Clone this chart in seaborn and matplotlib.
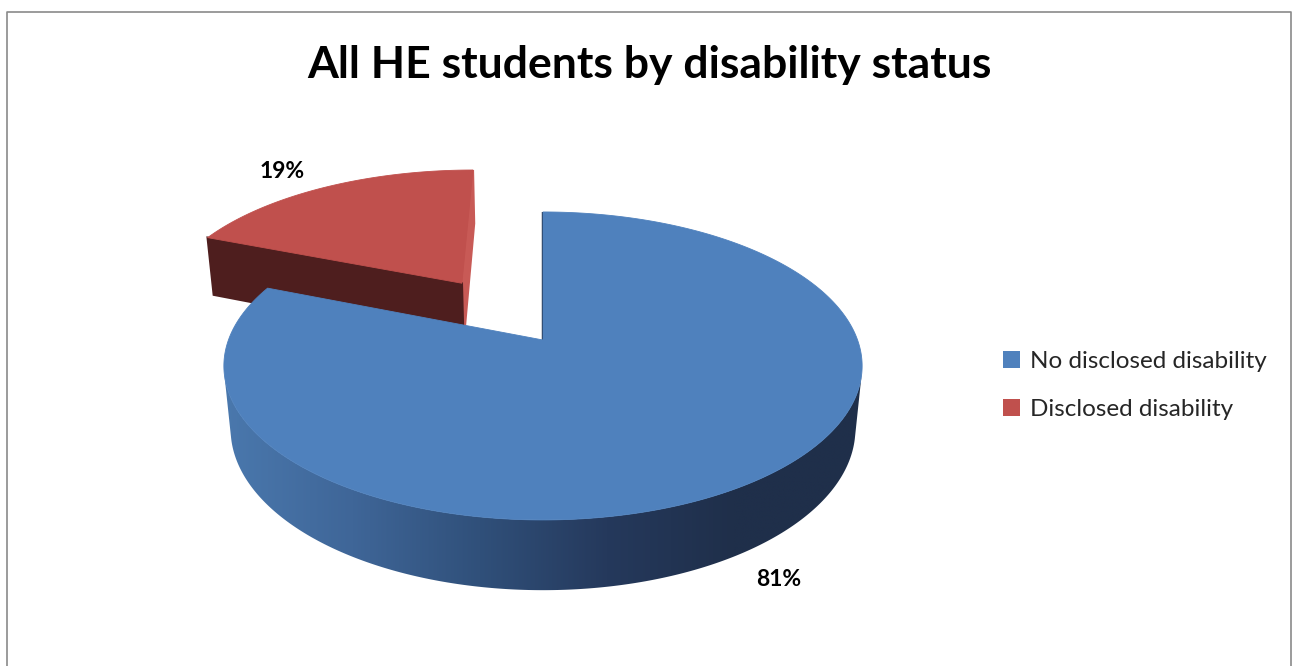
import numpy as np
import matplotlib
matplotlib.use("Agg")
import matplotlib.pyplot as plt
from matplotlib.patches import Polygon, Patch
from matplotlib.lines import Line2D
import seaborn as sns

# ---- data -------------------------------------------------------------
categories = ["No disclosed disability", "Disclosed disability"]
shares = [81, 19]
title_text = "All HE students by disability status"

# ---- style ------------------------------------------------------------
sns.set_theme(style="white")
plt.rcParams["font.family"] = ["Lato", "DejaVu Sans"]

top_colors = sns.color_palette(["#4F81BD", "#C0504D"])
side_ramps = [
    sns.blend_palette(["#4a78ad", "#3f6698", "#30507a", "#25395c", "#1f2f4a", "#1f2f4a"], n_colors=256),
    sns.blend_palette(["#5a2322", "#4a1c1c"], n_colors=256),
]
cut_dark = ["#1d2c45", "#4e1e1e"]
cut_light = ["#5a8ac4", "#c85a56"]
explode = [0.0, 0.49]

# ---- canvas in pixel units ----------------------------------------------
W, H = 1292, 666
fig = plt.figure(figsize=(W / 100, H / 100), dpi=100)
ax = fig.add_axes([0, 0, 1, 1])

# ---- simple perspective camera for the 3-D pie -------------------------
elev = np.radians(28.4)
s_e, c_e = np.sin(elev), np.cos(elev)
cam_dist = 5.22
focal = 1642.0
cx, cy = 543.0, 340.0
thick = 0.23
cam = np.array([0.0, -cam_dist * c_e, cam_dist * s_e])


def project(x, y, z):
    x = np.asarray(x, float)
    y = np.asarray(y, float)
    z = np.asarray(z, float)
    yc = y * s_e + z * c_e
    depth = cam_dist + y * c_e - z * s_e
    return cx + focal * x / depth, cy - focal * yc / depth


def facing(point, normal):
    return np.dot(cam - np.asarray(point), np.asarray(normal)) > -1e-9


# pie extent on screen, used to spread the side shading
a_all = np.radians(np.linspace(0, 360, 721))
ex, _ = project(np.cos(a_all), np.sin(a_all), np.zeros_like(a_all))
x_lo, x_hi = ex.min(), ex.max()

fracs = np.asarray(shares, float) / np.sum(shares)
edges = 90.0 - 360.0 * np.concatenate([[0], np.cumsum(fracs)])

slices = []
for i in range(len(shares)):
    t0, t1 = edges[i + 1], edges[i]  # slice spans [t0, t1] in degrees
    mid = np.radians((t0 + t1) / 2)
    ox, oy = explode[i] * np.cos(mid), explode[i] * np.sin(mid)
    slices.append((i, t0, t1, mid, ox, oy))

# far slices first
slices.sort(key=lambda sl: -(sl[5] + np.sin(sl[3])))

for i, t0, t1, mid, ox, oy in slices:
    n = max(int((t1 - t0) * 4), 16)
    arc = np.radians(np.linspace(t0, t1, n + 1))

    # outer curved wall: one polygon over the part that faces the camera,
    # filled with a left-to-right shading ramp
    vis = np.array([facing([ox + np.cos(a), oy + np.sin(a), 0.0],
                           [np.cos(a), np.sin(a), 0.0]) for a in arc])
    if vis.sum() > 1:
        va = arc[vis]
        wx = np.concatenate([ox + np.cos(va), ox + np.cos(va[::-1])])
        wy = np.concatenate([oy + np.sin(va), oy + np.sin(va[::-1])])
        wz = np.concatenate([np.zeros(len(va)), np.full(len(va), -thick)])
        sx, sy = project(wx, wy, wz)
        wall = Polygon(np.column_stack([sx, sy]), closed=True,
                       facecolor="none", edgecolor="none", zorder=2)
        ax.add_patch(wall)
        ramp = np.array(side_ramps[i])[None, :, :]
        img = ax.imshow(ramp, extent=(x_lo, x_hi, sy.max() + 2, sy.min() - 2),
                        aspect="auto", interpolation="bilinear", zorder=2)
        img.set_clip_path(wall)

    # radial cut faces
    for ang, sign in ((arc[0], -1), (arc[-1], 1)):
        nrm = np.array([-np.sin(ang), np.cos(ang), 0.0]) * sign
        p = [ox + 0.5 * np.cos(ang), oy + 0.5 * np.sin(ang), -thick / 2]
        if not facing(p, nrm):
            continue
        qx = [ox, ox + np.cos(ang), ox + np.cos(ang), ox]
        qy = [oy, oy + np.sin(ang), oy + np.sin(ang), oy]
        qz = [0, 0, -thick, -thick]
        sx, sy = project(qx, qy, qz)
        col = cut_light[i] if nrm[0] > 1e-6 else cut_dark[i]
        ax.add_patch(Polygon(np.column_stack([sx, sy]), closed=True,
                             facecolor=col, edgecolor=col, lw=1.6, zorder=3))

    # top face
    tx = np.concatenate([[ox], ox + np.cos(arc)])
    ty = np.concatenate([[oy], oy + np.sin(arc)])
    sx, sy = project(tx, ty, np.zeros_like(tx))
    ax.add_patch(Polygon(np.column_stack([sx, sy]), closed=True,
                         facecolor=top_colors[i], edgecolor=top_colors[i],
                         lw=0.6, zorder=4))

# ---- data labels ----------------------------------------------------------
label_pos = [(779, 579), (282, 172)]
for v, (lx, ly) in zip(shares, label_pos):
    ax.text(lx, ly, f"{v}%", ha="center", va="center", fontsize=16.5,
            fontweight="bold", color="black", zorder=6)

# ---- title -------------------------------------------------------------
ax.text(649, 65, title_text, ha="center", va="center", fontsize=32,
        fontweight="bold", color="black", zorder=6)

# ---- legend ----------------------------------------------------------------
handles = [Patch(facecolor=top_colors[i], edgecolor="none") for i in range(len(categories))]
ax.legend(handles, categories, loc="upper left",
          bbox_to_anchor=(1003 / W, 1 - 351 / H), frameon=False,
          fontsize=17.5, handlelength=0.7, handleheight=0.7,
          handletextpad=0.4, labelspacing=1.12, borderpad=0, borderaxespad=0)

# ---- outer frame -------------------------------------------------------------
ax.add_line(Line2D([6.5, 6.5, 1291, 1291], [H + 5, 11.5, 11.5, H + 5],
                   color="#8a8a8a", lw=1.2, zorder=7))

ax.set_xlim(0, W)
ax.set_ylim(H, 0)
ax.axis("off")

fig.savefig("out.png", dpi=100)
